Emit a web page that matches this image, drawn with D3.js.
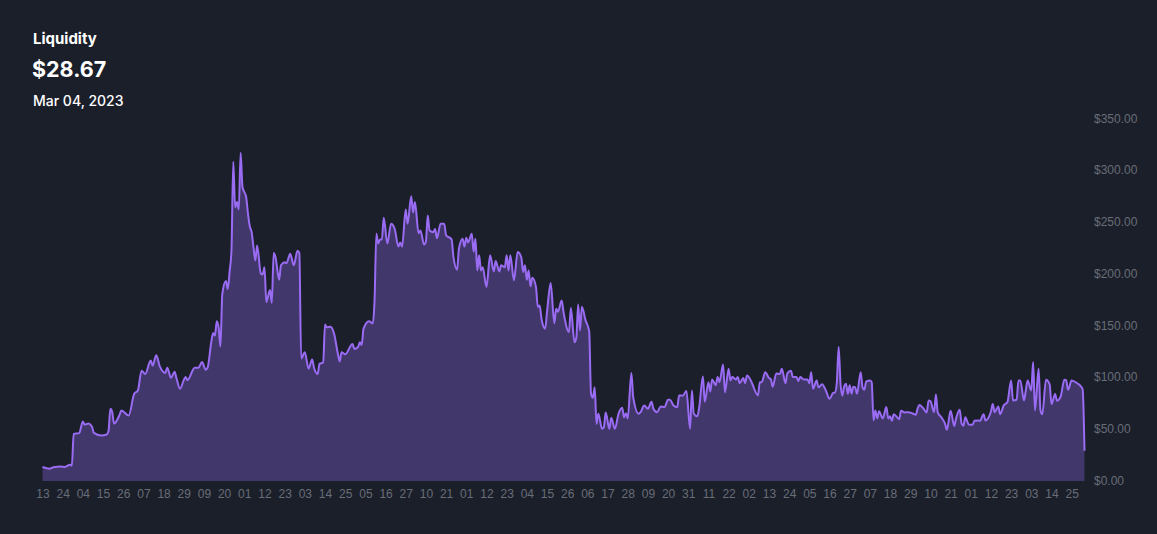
<!DOCTYPE html>
<html>
<head>
<meta charset="utf-8">
<script src="https://cdn.jsdelivr.net/npm/d3@7/dist/d3.min.js"></script>
<style>
  html, body { margin: 0; padding: 0; background: #1b1f2a; }
  svg { display: block; }
</style>
</head>
<body>
<svg id="chart" width="1157" height="534"></svg>
<script>
// ---- data ----
const title = "Liquidity";
const headlineValue = "$28.67";
const headlineDate = "Mar 04, 2023";
const startDate = "2021-08-13";
const endDate = "2023-03-04";
// days since startDate
const dayOffsets = [0,4,6,10,12,15,16,17,20,22,23,25,27,28,32,35,36,37,38,39,42,43,47,50,52,54,56,59,60,62,64,67,68,70,72,73,75,77,78,79,83,85,87,89,90,92,93,94,95,96,97,98,100,101,102,103,104,105,106,107,108,109,111,112,113,114,115,116,117,119,120,121,122,124,125,126,127,129,130,132,133,135,137,139,140,141,143,145,147,148,150,151,153,154,155,157,159,161,162,163,165,169,170,172,173,174,175,178,180,181,182,183,184,185,186,188,190,192,194,195,196,198,199,201,202,203,205,206,208,209,210,211,213,214,215,217,219,220,223,224,226,227,229,230,231,232,234,235,236,237,238,239,240,242,244,246,247,249,250,252,253,254,255,257,259,261,262,263,264,265,266,267,269,270,271,272,274,275,277,279,280,281,283,284,287,288,290,291,292,293,294,296,298,299,300,301,302,303,305,306,307,309,310,312,314,316,317,318,319,321,322,325,326,328,330,332,333,335,337,339,341,342,344,346,347,349,351,353,354,355,357,358,360,361,363,364,365,367,368,369,371,372,374,375,376,378,379,380,382,383,384,386,387,390,391,392,394,396,397,398,400,402,403,405,406,408,409,411,412,413,415,417,418,419,420,422,423,425,427,429,431,432,433,434,435,436,437,438,439,440,441,442,443,444,446,447,448,449,451,452,453,454,455,456,458,460,461,462,463,464,467,468,470,472,474,476,477,478,480,482,483,484,486,487,488,490,492,493,495,497,498,500,501,502,503,505,507,508,510,511,513,514,517,518,519,521,522,524,526,528,529,531,532,533,535,536,537,539,540,541,543,544,545,547,549,550,552,553,555,557,558,559,561,564,566,567,568];
const liquidity = [13,11.3,12.9,13.5,13,15.2,14.5,45,45.8,57,54,55,52,46,43.5,44.5,48,69.3,66,55,63.4,67.7,62.8,83.8,87,106,103,116,111,121,110,104,109,99.3,105,99,88.6,97,100,97,109,109,114.4,107,109,133.8,142.5,140,154,148,129.6,180,192.7,185,202,222,308,264,269,262,316.6,283.6,274,258,245.6,240,225.6,212.7,227,200,199,206,172.4,184,171.6,219.8,216,194,208,211,210,219,208,222,220,118,124,108,117,109,103,112.7,114,150.8,148,148.6,141.5,122.5,115,124,122,132,127,129,133.6,131,146.7,154,151.7,174,238.5,229,233,233,254,229,248,243,226,230,226,261.8,248,274.6,259,269,239,241.6,228,231,256,241.6,240,243,234,248,248,237,233,216,203.7,224,233.5,226,234.5,230,238.5,221,233.5,203,217.6,203,206,187,217.6,202,212,202,208,206,217.6,203,217.6,193.4,220.8,215.5,201.5,208,194,203,187.6,196,187,167.6,169,156.3,146.7,162.6,190.8,152,166,163,174,163,143.4,166.7,133.7,138,170,145,168,155,144,83.8,80,90,54.8,64.5,50,51.5,65.8,50,60.6,50,64.5,70.3,61,65,60,104,80.6,64.5,66,72.5,69.3,76,69.3,66,71.6,70.8,78,78,72.5,70.8,82.2,82,86.4,50,87,64.5,62,71,100.6,76,95,86,97.7,92,100,95,112,85,108,96.7,100,97.7,100,94,99,94,101.5,97,93,82.2,95,95,104.7,99,98,90.5,103.5,103,108,94,103.5,106,100,100,96,100,97.7,97.7,94,104.7,88.6,96.7,90,93,87,79,84.6,85,95,128.9,93.5,82,91,93.5,83.8,92,84,90.5,90,83.8,104.7,90,87.6,95.6,96.7,95,58,67.7,60,67,60,71,60,62,57.7,64,59.3,67.3,65.8,66,65,63.5,69.3,73,70,65.8,77.4,76.8,66,83,65.8,61,54.8,49,67.3,52.6,60,68.3,55,53,61,54,53.8,57.7,58,57.7,64,58,66.6,74,66,71.6,64,72.6,75.8,96.7,77.4,78,96.7,96.7,77.4,87,96.7,87,114.4,67.7,108,67.7,64,97.4,93,73.8,83.6,77,81,97.4,97,87.6,96.7,94,91,88,28.67];
const yTicks = [0, 50, 100, 150, 200, 250, 300, 350];
const xTickLabels = ["13","24","04","15","26","07","18","29","09","20","01","12","23","03","14","25","05","16","27","10","21","01","12","23","04","15","26","06","17","28","09","20","31","11","22","02","13","24","05","16","27","07","18","29","10","21","01","12","23","03","14","25"];
const xTickStepDays = 11;

// ---- drawing ----
const svg = d3.select("#chart");
const W = 1157, H = 534;
svg.append("rect").attr("width", W).attr("height", H).attr("fill", "#1b1f2a");

const parse = d3.utcParse("%Y-%m-%d");
const t0 = parse(startDate), t1 = parse(endDate);
const data = dayOffsets.map((d, i) => ({ date: d3.utcDay.offset(t0, d), value: liquidity[i] }));

const x = d3.scaleUtc().domain([t0, t1]).range([42.5, 1084.5]);
const y = d3.scaleLinear().domain([0, 350]).range([480.5, 118.3]);

const area = d3.area()
  .x(d => x(d.date)).y0(y(0) + 0.5).y1(d => y(d.value))
  .curve(d3.curveMonotoneX);
const line = d3.line()
  .x(d => x(d.date)).y(d => y(d.value))
  .curve(d3.curveMonotoneX);

svg.append("path").datum(data).attr("d", area).attr("fill", "#41376a");
svg.append("path").datum(data).attr("d", line)
  .attr("fill", "none").attr("stroke", "#9a6cf4").attr("stroke-width", 2)
  .attr("stroke-linejoin", "round");

// y axis on the right
const yAxis = d3.axisRight(y).tickValues(yTicks).tickSize(0).tickPadding(0)
  .tickFormat(v => "$" + d3.format(".2f")(v));
const gy = svg.append("g").attr("transform", "translate(1094,0)").call(yAxis);
gy.select(".domain").remove();
gy.selectAll("text").attr("fill", "#686d78").attr("font-size", "12px")
  .attr("font-family", "'Liberation Sans', Arial, sans-serif");

// x axis
const tickDates = xTickLabels.map((_, i) => d3.utcDay.offset(t0, i * xTickStepDays));
const xAxis = d3.axisBottom(x).tickValues(tickDates).tickSize(0).tickPadding(0)
  .tickFormat((d, i) => xTickLabels[i]);
const gx = svg.append("g").attr("transform", "translate(0,489)").call(xAxis);
gx.select(".domain").remove();
gx.selectAll("text").attr("fill", "#686d78").attr("font-size", "12px")
  .attr("font-family", "'Liberation Sans', Arial, sans-serif");

// header
svg.append("text").attr("x", 33).attr("y", 43.5).text(title)
  .attr("fill", "#ffffff").attr("font-family", "Inter, sans-serif")
  .attr("font-weight", 700).attr("font-size", "15px");
svg.append("text").attr("x", 32).attr("y", 77).text(headlineValue)
  .attr("fill", "#ffffff").attr("font-family", "Inter, sans-serif")
  .attr("font-weight", 700).attr("font-size", "21.5px");
svg.append("text").attr("x", 33).attr("y", 105.5).text(headlineDate)
  .attr("fill", "#ffffff").attr("font-family", "Inter, sans-serif")
  .attr("font-weight", 500).attr("font-size", "14px");
</script>
</body>
</html>
